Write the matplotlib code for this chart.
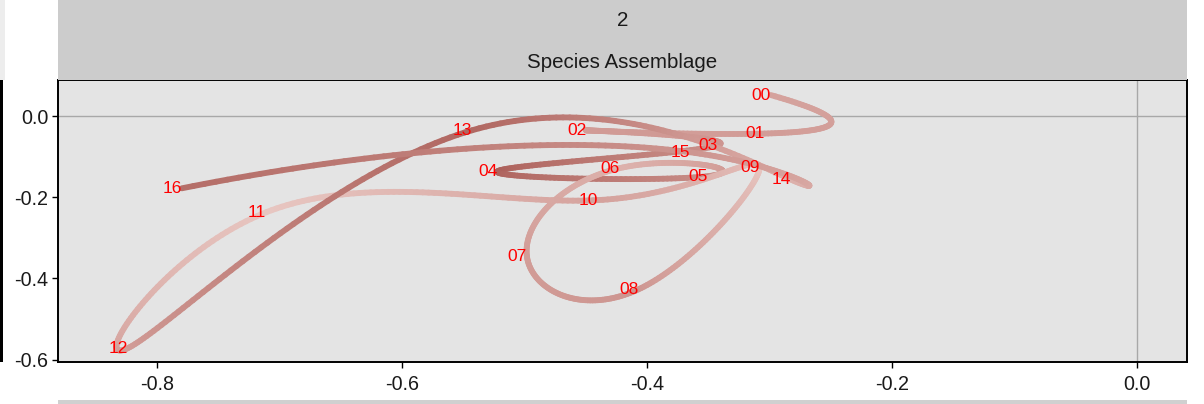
import numpy as np
import matplotlib
matplotlib.use("Agg")
import matplotlib.pyplot as plt
from matplotlib.collections import LineCollection
from matplotlib.colors import LinearSegmentedColormap
from matplotlib.patches import Rectangle

# ---- data ----
time_labels = ['00', '01', '02', '03', '04', '05', '06', '07', '08',
               '09', '10', '11', '12', '13', '14', '15', '16']
pc1 = [-0.299, -0.304, -0.449, -0.342, -0.522, -0.350, -0.422, -0.498, -0.407,
       -0.308, -0.440, -0.711, -0.824, -0.543, -0.282, -0.365, -0.780]
pc2 = [0.052, -0.043, -0.035, -0.072, -0.136, -0.148, -0.128, -0.347, -0.427,
       -0.127, -0.207, -0.237, -0.572, -0.035, -0.157, -0.089, -0.178]
shade = [0.45, 0.50, 0.50, 0.55, 0.90, 0.60, 0.30, 0.50, 0.55,
         0.10, 0.45, 0.10, 0.50, 0.85, 0.30, 0.55, 0.80]
strip_top = "2"
strip_bottom = "Species Assemblage"
x_ticks = [-0.8, -0.6, -0.4, -0.2, 0.0]
y_ticks = [0.0, -0.2, -0.4, -0.6]
label_nudge = -0.008


def fmm_spline(vals, t_eval):
    v = np.asarray(vals, float)
    n = len(v)
    A = np.zeros((n, n))
    b = np.zeros(n)
    A[0, 0], A[0, 1] = -1.0, 1.0
    b[0] = v[3] - 3 * v[2] + 3 * v[1] - v[0]
    A[-1, -2], A[-1, -1] = -1.0, 1.0
    b[-1] = v[-1] - 3 * v[-2] + 3 * v[-3] - v[-4]
    for i in range(1, n - 1):
        A[i, i - 1] = 1.0
        A[i, i] = 4.0
        A[i, i + 1] = 1.0
        b[i] = 6.0 * (v[i + 1] - 2 * v[i] + v[i - 1])
    M = np.linalg.solve(A, b)
    i = np.clip(np.floor(t_eval).astype(int), 0, n - 2)
    s = t_eval - i
    return ((1 - s) * v[i] + s * v[i + 1]
            + ((1 - s) ** 3 - (1 - s)) * M[i] / 6.0
            + (s ** 3 - s) * M[i + 1] / 6.0)


n = len(pc1)
t = np.linspace(0, n - 1, (n - 1) * 60 + 1)
xs = fmm_spline(pc1, t)
ys = fmm_spline(pc2, t)
cs = np.interp(t, np.arange(n), shade)

fig = plt.figure(figsize=(12.04, 4.04), dpi=100)
fig.patch.set_facecolor("white")

W, H = 1204.0, 404.0
pl, pr, pt, pb = 58, 1187, 80, 362
ax = fig.add_axes([pl / W, 1 - pb / H, (pr - pl) / W, (pb - pt) / H])
ax.set_facecolor("#E4E4E4")
ax.set_xlim(-0.881, 0.041)
ax.set_ylim(-0.606, 0.089)

ax.axhline(0, color="#A8A8A8", lw=1.0, zorder=1)
ax.axvline(0, color="#A8A8A8", lw=1.0, zorder=1)

cmap = LinearSegmentedColormap.from_list("rb", ["#EDD0CB", "#D29D98", "#A2504A"])
pts = np.column_stack([xs, ys]).reshape(-1, 1, 2)
segs = np.concatenate([pts[:-1], pts[1:]], axis=1)
lc = LineCollection(segs, colors=cmap(0.5 * (cs[:-1] + cs[1:])),
                    linewidths=4.2, capstyle="round", joinstyle="round", zorder=2)
ax.add_collection(lc)

for lab, x, y in zip(time_labels, pc1, pc2):
    ax.text(x + label_nudge, y, lab, color="#FF0000", fontsize=12.5,
            family="Liberation Sans", ha="center", va="center", zorder=3)

ax.set_xticks(x_ticks)
ax.set_xticklabels([f"{v:.1f}" for v in x_ticks])
ax.set_yticks(y_ticks)
ax.set_yticklabels([f"{v:.1f}" for v in y_ticks])
ax.tick_params(axis="both", direction="out", length=4, width=1, color="black",
               labelsize=14.2, labelcolor="#1A1A1A")
ax.tick_params(axis="x", pad=5)
ax.tick_params(axis="y", pad=3)
for lbl in ax.get_xticklabels() + ax.get_yticklabels():
    lbl.set_family("Liberation Sans")
for sp in ax.spines.values():
    sp.set_color("black")
    sp.set_linewidth(1.4)

# strip
sax = fig.add_axes([pl / W, 1 - pt / H, (pr - pl) / W, pt / H])
sax.set_facecolor("#CCCCCC")
sax.set_xticks([])
sax.set_yticks([])
for sp in sax.spines.values():
    sp.set_visible(False)
sax.text(0.5, 1 - 21 / 80, strip_top, ha="center", va="center", fontsize=14.8,
         family="Liberation Sans", color="#1A1A1A", transform=sax.transAxes)
sax.text(0.5, 1 - 62 / 80, strip_bottom, ha="center", va="center", fontsize=14.8,
         family="Liberation Sans", color="#1A1A1A", transform=sax.transAxes)

# surrounding fragments
fig.add_artist(Rectangle((0, 1 - pb / H), 2.5 / W, (pb - pt) / H,
                         transform=fig.transFigure, color="black", lw=0))
fig.add_artist(Rectangle((0, 1 - pt / H), 5 / W, pt / H,
                         transform=fig.transFigure, color="#EDEDED", lw=0))
fig.add_artist(Rectangle((pl / W, 0), (pr - pl) / W, 4 / H,
                         transform=fig.transFigure, color="#D0D0D0", lw=0))

fig.savefig("out.png", dpi=100)
